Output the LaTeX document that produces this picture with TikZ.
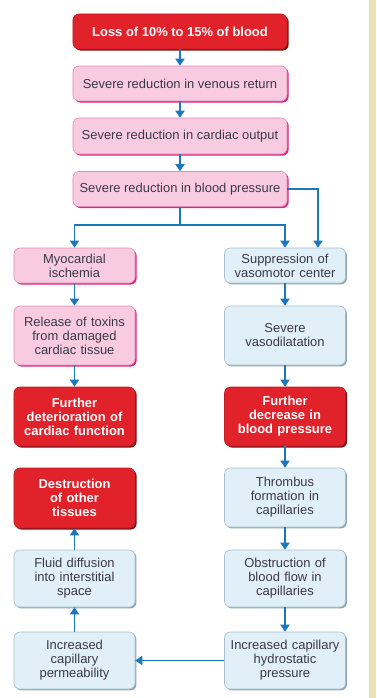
\documentclass[tikz,border=0pt]{standalone}
\usepackage{fontspec}
\setmainfont{Liberation Sans}
\usetikzlibrary{arrows.meta,shadows,positioning,calc}

\definecolor{flowblue}{HTML}{1B78BE}
\definecolor{lossred}{HTML}{E2222B}
\definecolor{lossshadow}{HTML}{7E1014}
\definecolor{pinkfill}{HTML}{F8CBE1}
\definecolor{pinkedge}{HTML}{E58DB8}
\definecolor{pinkshadow}{HTML}{D8267F}
\definecolor{bluefill}{HTML}{E0EFF8}
\definecolor{blueedge}{HTML}{A9BFCD}
\definecolor{blueshadow}{HTML}{8FA5B4}
\definecolor{textgray}{HTML}{3A3A46}
\definecolor{khaki}{HTML}{E7E3B4}

\begin{document}
\begin{tikzpicture}[x=1bp,y=-1bp,
    box/.style={rounded corners=6bp, align=center, inner sep=2bp, line width=0.6bp,
        text=textgray, font=\fontsize{13}{14}\selectfont},
    redbox/.style={box, fill=lossred, draw=lossred!85!black, text=white,
        font=\bfseries\fontsize{13}{14}\selectfont,
        general shadow={fill=lossshadow, shadow xshift=1.6bp, shadow yshift=-1.6bp}},
    pinkbox/.style={box, fill=pinkfill, draw=pinkedge,
        general shadow={fill=pinkshadow, shadow xshift=1.6bp, shadow yshift=-1.6bp}},
    bluebox/.style={box, fill=bluefill, draw=blueedge,
        general shadow={fill=blueshadow, shadow xshift=1.4bp, shadow yshift=-1.4bp}},
    wide/.style={minimum width=214bp, minimum height=35bp},
    col/.style={text width=116bp, minimum width=121bp},
    flow/.style={draw=flowblue, line width=1.9bp, -{Triangle[width=9bp,length=7bp]}},
    flowline/.style={draw=flowblue, line width=1.9bp}]

    \useasboundingbox (0,0) rectangle (376,698);
    \fill[white] (0,0) rectangle (376,698);
    \fill[khaki] (369,0) rectangle (376,698); % side strip

    % main chain
    \node[redbox, wide] (loss) at (180,31.5) {Loss of 10\% to 15\% of blood};
    \node[pinkbox, wide] (venous) at (180,83.5) {Severe reduction in venous return};
    \node[pinkbox, wide, minimum height=36bp] (output) at (180,136) {Severe reduction in cardiac output};
    \node[pinkbox, wide] (pressure) at (180,189) {Severe reduction in blood pressure};

    % left column
    \node[pinkbox, col, minimum height=35bp] (ischemia) at (74.5,265.5) {Myocardial\\ischemia};
    \node[pinkbox, col, minimum height=59bp] (toxins) at (74.5,335.5) {Release of toxins\\from damaged\\cardiac tissue};
    \node[redbox, col, minimum height=59bp] (deterior) at (74.5,416.5) {Further\\deterioration of\\cardiac function};
    \node[redbox, col, minimum height=60bp] (destruct) at (74.5,498) {Destruction\\of other\\tissues};
    \node[bluebox, col, minimum height=57bp] (fluid) at (74.5,578.5) {Fluid diffusion\\into interstitial\\space};
    \node[bluebox, col, minimum height=57bp] (permeab) at (74.5,660.5) {Increased\\capillary\\permeability};

    % right column
    \node[bluebox, col, minimum height=35bp] (vasomotor) at (285,265.5) {Suppression of\\vasomotor center};
    \node[bluebox, col, minimum height=59bp] (vasodil) at (285,335.5) {Severe\\vasodilatation};
    \node[redbox, col, minimum height=59bp] (decrease) at (285,416.5) {Further\\decrease in\\blood pressure};
    \node[bluebox, col, minimum height=59bp] (thrombus) at (285,497.5) {Thrombus\\formation in\\capillaries};
    \node[bluebox, col, minimum height=57bp] (obstruct) at (285,578.5) {Obstruction of\\blood flow in\\capillaries};
    \node[bluebox, col, minimum height=57bp] (hydro) at (285,660.5) {Increased capillary\\hydrostatic\\pressure};

    % arrows
    \draw[flow] (loss) -- (venous);
    \draw[flow] (venous) -- (output);
    \draw[flow] (output) -- (pressure);

    \coordinate (split) at ($(pressure.south)+(0,18)$);
    \draw[flowline] (pressure.south) -- (split);
    \draw[flow] (split) -| (ischemia.north);
    \draw[flow] (split) -| (vasomotor.north);
    \draw[flow] (pressure.east) -| ($(vasomotor.north)+(33,0)$);

    \draw[flow] (ischemia) -- (toxins);
    \draw[flow] (toxins) -- (deterior);

    \draw[flow] (vasomotor) -- (vasodil);
    \draw[flow] (vasodil) -- (decrease);
    \draw[flow] (decrease) -- (thrombus);
    \draw[flow] (thrombus) -- (obstruct);
    \draw[flow] (obstruct) -- (hydro);

    \draw[flow] (hydro) -- (permeab);
    \draw[flow] (permeab) -- (fluid);
    \draw[flow] (fluid) -- (destruct);
\end{tikzpicture}
\end{document}
